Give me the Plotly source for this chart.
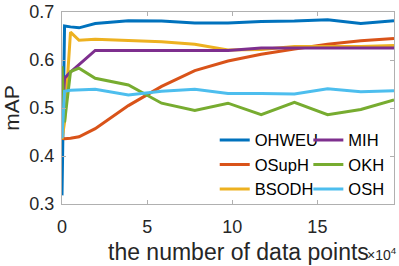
import plotly.graph_objects as go

# x values in units of 1e4 data points
x_points = [0, 0.15, 0.5, 1.0, 1.95, 3.9, 5.85, 7.8, 9.75, 11.7, 13.65, 15.6, 17.55, 19.5]

ohweu = [0.318, 0.671, 0.669, 0.667, 0.676, 0.682, 0.681, 0.677, 0.677, 0.680, 0.681, 0.684, 0.676, 0.682]
osuph = [0.437, 0.436, 0.437, 0.440, 0.457, 0.505, 0.545, 0.578, 0.598, 0.612, 0.623, 0.633, 0.640, 0.645]
bsodh = [0.435, 0.470, 0.658, 0.641, 0.643, 0.640, 0.638, 0.633, 0.621, 0.622, 0.628, 0.628, 0.628, 0.630]
mih = [0.470, 0.562, 0.575, 0.590, 0.620, 0.620, 0.620, 0.620, 0.620, 0.625, 0.625, 0.625, 0.625, 0.625]
okh = [0.587, 0.470, 0.576, 0.583, 0.562, 0.548, 0.510, 0.495, 0.510, 0.486, 0.512, 0.486, 0.497, 0.517]
osh = [0.437, 0.535, 0.537, 0.538, 0.539, 0.527, 0.535, 0.539, 0.530, 0.530, 0.529, 0.540, 0.534, 0.536]

series_names = ["OHWEU", "OSupH", "BSODH", "MIH", "OKH", "OSH"]
series_values = [ohweu, osuph, bsodh, mih, okh, osh]
series_colors = ["#0072BD", "#D95319", "#EDB120", "#7E2F8E", "#77AC30", "#4DBEEE"]
series_legend = ["legend", "legend", "legend", "legend2", "legend2", "legend2"]

x_tick_vals = [0, 5, 10, 15]
y_tick_vals = [0.3, 0.4, 0.5, 0.6, 0.7]

FONT = "Liberation Sans, Arial, Helvetica, sans-serif"
TXT = "#262626"
AX = "#b0b0b0"

fig = go.Figure()
for name, vals, col, lg in zip(series_names, series_values, series_colors, series_legend):
    fig.add_trace(go.Scatter(
        x=x_points, y=vals, mode="lines", name=name,
        line=dict(color=col, width=3),
        legend=lg,
    ))

fig.update_layout(
    width=399, height=266,
    margin=dict(l=62, r=5, t=12, b=62, autoexpand=False),
    paper_bgcolor="white", plot_bgcolor="white",
    font=dict(family=FONT, color=TXT, size=18),
    showlegend=True,
    legend=dict(x=0.46, y=0.423, xanchor="left", yanchor="top",
                bgcolor="rgba(0,0,0,0)", borderwidth=0,
                font=dict(size=16.5, family=FONT, color="#000000"),
                tracegroupgap=0, itemwidth=30),
    legend2=dict(x=0.742, y=0.423, xanchor="left", yanchor="top",
                 bgcolor="rgba(0,0,0,0)", borderwidth=0,
                 font=dict(size=16.5, family=FONT, color="#000000"),
                 tracegroupgap=0, itemwidth=30),
)

fig.update_xaxes(
    range=[0, 19.5], tickvals=x_tick_vals, ticktext=[str(v) for v in x_tick_vals],
    showgrid=False, zeroline=False,
    showline=True, linecolor=AX, linewidth=1, mirror="ticks",
    ticks="inside", ticklen=4, tickcolor=AX, tickwidth=1,
    tickfont=dict(size=18, family=FONT, color=TXT),
    ticklabelstandoff=6,
)
fig.update_yaxes(
    range=[0.3, 0.7], tickvals=y_tick_vals, ticktext=["%.1f" % v for v in y_tick_vals],
    showgrid=False, zeroline=False,
    showline=True, linecolor=AX, linewidth=1, mirror="ticks",
    ticks="inside", ticklen=4, tickcolor=AX, tickwidth=1,
    tickfont=dict(size=18, family=FONT, color=TXT),
    ticklabelstandoff=3,
    title=dict(text="mAP", font=dict(size=21, family=FONT, color=TXT), standoff=8),
)

fig.add_annotation(
    text="the number of data points", xref="paper", yref="paper",
    x=0.531, y=-0.25, xanchor="center", yanchor="middle", showarrow=False,
    font=dict(size=23, family=FONT, color=TXT),
)
fig.add_annotation(
    text="×10<sup>4</sup>", xref="paper", yref="paper",
    x=1.012, y=-0.262, xanchor="right", yanchor="middle", showarrow=False,
    font=dict(size=14, family=FONT, color=TXT), borderpad=0,
)

fig.write_html("out.html", config={"displayModeBar": False},
               post_script="document.body.style.margin='0';document.body.style.padding='0';")
